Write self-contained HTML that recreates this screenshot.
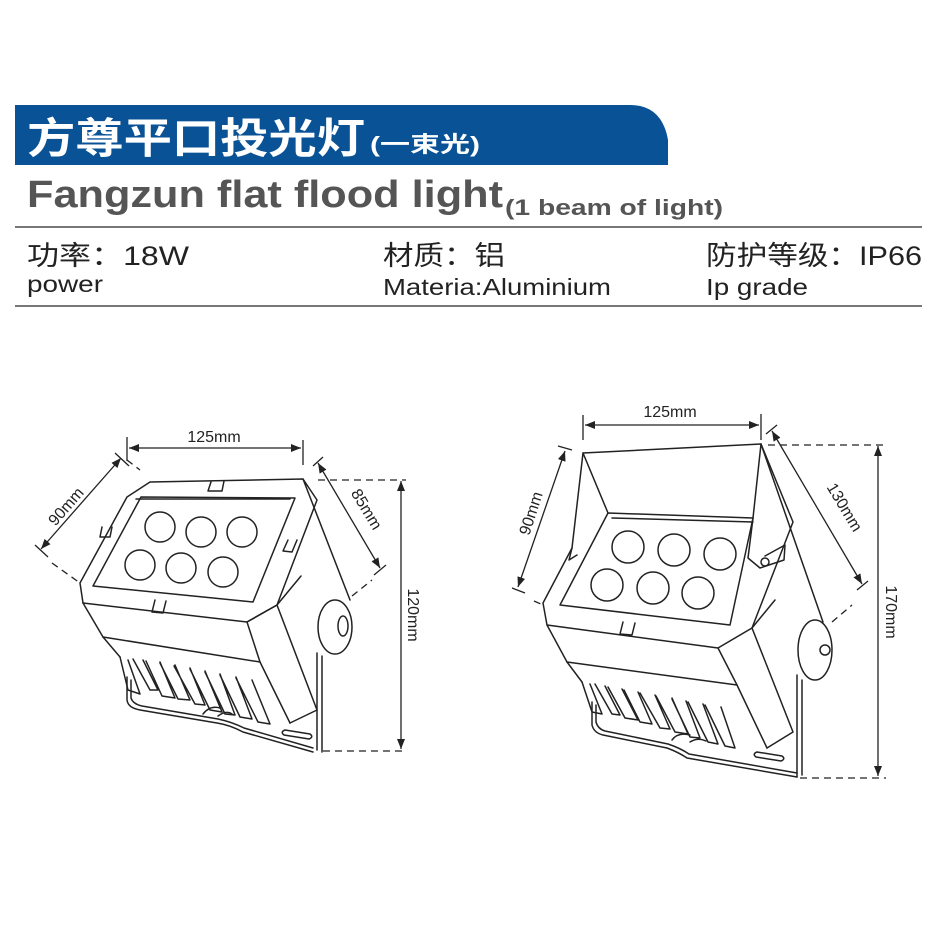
<!DOCTYPE html>
<html><head><meta charset="utf-8"><style>
html,body{margin:0;padding:0;background:#fff;width:937px;height:937px;overflow:hidden}
svg{display:block}
.l{fill:none;stroke:#222;stroke-width:1.5;stroke-linejoin:round;stroke-linecap:round}
.d{fill:none;stroke:#222;stroke-width:1.3}
.ds{fill:none;stroke:#222;stroke-width:1.3;stroke-dasharray:7 5}
.t{font-family:"Liberation Sans","Noto Sans CJK SC",sans-serif;fill:#222;font-size:16px}
</style></head><body>
<svg width="937" height="937" viewBox="0 0 937 937" xmlns="http://www.w3.org/2000/svg">
<defs>
<marker id="a" viewBox="0 0 10 10" refX="10" refY="5" markerWidth="10" markerHeight="10" orient="auto-start-reverse" markerUnits="userSpaceOnUse"><path d="M0,1 L10,5 L0,9 z" fill="#222"/></marker>
</defs>
<path d="M15,105 H630 Q662,105 668,140 V165 H15 Z" fill="#0a5296"/>
<text x="27" y="153" font-family="'Liberation Sans','Noto Sans CJK SC',sans-serif" font-weight="bold" font-size="42" fill="#fff" textLength="338" lengthAdjust="spacingAndGlyphs">方尊平口投光灯</text>
<text x="370" y="152" font-family="'Liberation Sans','Noto Sans CJK SC',sans-serif" font-weight="bold" font-size="22" fill="#fff" textLength="110" lengthAdjust="spacingAndGlyphs">(一束光)</text>
<text x="27" y="207" font-family="'Liberation Sans',sans-serif" font-weight="bold" font-size="38" fill="#555" textLength="476" lengthAdjust="spacingAndGlyphs">Fangzun flat flood light</text>
<text x="505" y="215" font-family="'Liberation Sans',sans-serif" font-weight="bold" font-size="22" fill="#555" textLength="218" lengthAdjust="spacingAndGlyphs">(1 beam of light)</text>
<line x1="15" y1="227" x2="922" y2="227" stroke="#777" stroke-width="2"/>
<line x1="15" y1="306" x2="922" y2="306" stroke="#777" stroke-width="2"/>
<g font-family="'Liberation Sans','Noto Sans CJK SC',sans-serif" fill="#222">
<text x="27" y="265" font-size="27" textLength="162" lengthAdjust="spacingAndGlyphs">功率：18W</text>
<text x="27" y="292" font-size="23" textLength="76" lengthAdjust="spacingAndGlyphs">power</text>
<text x="383" y="265" font-size="27" textLength="122" lengthAdjust="spacingAndGlyphs">材质：铝</text>
<text x="383" y="295" font-size="23" textLength="228" lengthAdjust="spacingAndGlyphs">Materia:Aluminium</text>
<text x="706" y="265" font-size="27" textLength="216" lengthAdjust="spacingAndGlyphs">防护等级：IP66</text>
<text x="706" y="295" font-size="23" textLength="102" lengthAdjust="spacingAndGlyphs">Ip grade</text>
</g>

<!-- LEFT LAMP -->
<g class="l">
<path d="M150,482 L303,479 L317,500 L277,605 L247,622 L83,603 L80,583 L127,497 Z"/>
<path d="M141,497 L295,498 L253,602 L93,586 Z"/>
<path d="M136,499 L290,499"/>
<circle cx="160" cy="527" r="15"/><circle cx="201" cy="532" r="15"/><circle cx="242" cy="532" r="15"/>
<circle cx="140" cy="565" r="15"/><circle cx="181" cy="568" r="15"/><circle cx="223" cy="572" r="15"/>
<path d="M211,482 L208,491 L222,491 L224,481"/>
<path d="M102,527 L100,537 L110,537 L112,527"/>
<path d="M288,540 L283,551 L292,552 L297,540"/>
<path d="M155,600 L152,612 L163,613 L166,601"/>
<path d="M83,603 L103,637 L120,657"/>
<path d="M103,637 L260,662"/>
<path d="M247,622 L260,662 L290,723"/>
<path d="M247,622 L277,605 L317,710 L290,723"/>
<path d="M303,479 L350,600"/>
<path d="M277,605 L301,576"/>
<ellipse cx="335" cy="627" rx="17" ry="27"/>
<ellipse cx="343" cy="626" rx="5" ry="10"/>
<path d="M317,653 L317,750 M322,656 L322,752"/>
<path d="M127,677 L127,700 Q128,708 140,710 L217,723 Q230,725 243,732 L313,752"/>
<path d="M131,680 L131,698 Q133,704 142,706 L218,719 Q232,722 244,728 L313,748"/>
<path d="M285,730 L310,734 Q314,737 309,739 L284,735 Q280,732 285,730 Z"/>
<path d="M120,657 L128,690 L140,694 L128,660 M133,659 L150,690 L158,690 L143,660 M146,661 L162,696 L175,698 L160,662 M160,663 L178,699 L190,700 L175,665 M174,666 L195,704 L205,705 L190,668 M190,669 L210,710 L222,712 L205,671 M205,672 L225,714 L235,715 L220,674 M220,675 L240,717 L252,719 L236,677 M236,678 L258,722 L270,724 L252,680"/>
<path d="M203,714 Q210,705 220,708 M218,716 Q226,710 232,714"/>
</g>
<line class="d" x1="129" y1="448" x2="301" y2="448" marker-start="url(#a)" marker-end="url(#a)"/>
<path class="d" d="M127,437 V461 M303,440 V465"/>
<text class="t" x="214" y="442" text-anchor="middle">125mm</text>
<line class="d" x1="121" y1="458" x2="41" y2="549" marker-start="url(#a)" marker-end="url(#a)"/>
<path class="d" d="M115,453 L129,466 M35,545 L48,557"/>
<path class="ds" d="M127,460 L140,470 M52,563 L80,583"/>
<text class="t" transform="translate(70,510) rotate(-49)" text-anchor="middle">90mm</text>
<line class="d" x1="318" y1="463" x2="380" y2="568" marker-start="url(#a)" marker-end="url(#a)"/>
<path class="d" d="M313,466 L323,457 M374,575 L386,565"/>
<path class="ds" d="M352,596 L372,580"/>
<text class="t" transform="translate(362,512) rotate(59)" text-anchor="middle">85mm</text>
<line class="d" x1="401" y1="481" x2="401" y2="749" marker-start="url(#a)" marker-end="url(#a)"/>
<path class="ds" d="M318,480 H406 M323,751 H406"/>
<text class="t" transform="translate(408,615) rotate(90)" text-anchor="middle">120mm</text>

<!-- RIGHT LAMP -->
<g class="l">
<path d="M583,453 L761,444 L793,522 L752,628 L718,648 L547,625 L543,603 L572,548 Z"/>
<path d="M583,453 L608,513 M761,444 L753,518"/>
<path d="M608,513 L753,518 L730,625 L560,605 Z"/>
<path d="M612,518 L753,522"/>
<path d="M753,518 L748,558 L760,568 L784,560 L785,545 L765,556"/>
<path d="M572,548 L569,560 L577,555"/>
<circle cx="628" cy="547" r="16"/><circle cx="674" cy="550" r="16"/><circle cx="720" cy="554" r="16"/>
<circle cx="607" cy="585" r="16"/><circle cx="653" cy="588" r="16"/><circle cx="698" cy="593" r="16"/>
<circle cx="765" cy="562" r="4"/>
<path d="M623,622 L620,634 L632,635 L635,623"/>
<path d="M547,625 L567,662 L582,682"/>
<path d="M567,662 L737,685"/>
<path d="M718,648 L737,685 L767,748"/>
<path d="M752,628 L793,732 L767,748"/>
<path d="M761,444 L823,622"/>
<path d="M752,628 L775,600"/>
<ellipse cx="815" cy="650" rx="17" ry="30"/>
<circle cx="825" cy="650" r="5"/>
<path d="M797,675 L797,777 M802,680 L802,775"/>
<path d="M592,702 L592,725 Q594,733 603,735 L667,748 Q678,752 687,758 L797,777"/>
<path d="M596,705 L596,722 Q598,729 605,731 L668,744 Q680,748 689,754 L797,773"/>
<path d="M757,752 L782,756 Q786,759 781,761 L756,757 Q752,754 757,752 Z"/>
<path d="M582,682 L592,712 L602,714 L590,684 M595,684 L612,714 L620,715 L605,686 M608,687 L625,718 L638,720 L622,689 M624,690 L640,722 L652,724 L638,692 M640,693 L660,728 L670,729 L655,695 M656,696 L675,732 L688,734 L672,698 M672,699 L690,737 L700,738 L686,701 M688,702 L708,742 L718,744 L703,704 M705,705 L725,746 L735,748 L721,707"/>
<path d="M672,740 Q678,732 690,735 M690,742 Q698,737 706,741"/>
</g>
<line class="d" x1="585" y1="425" x2="759" y2="425" marker-start="url(#a)" marker-end="url(#a)"/>
<path class="d" d="M583,415 V440 M761,414 V440"/>
<text class="t" x="670" y="417" text-anchor="middle">125mm</text>
<line class="d" x1="565" y1="451" x2="518" y2="587" marker-start="url(#a)" marker-end="url(#a)"/>
<path class="d" d="M558,446 L572,450 M512,588 L525,593"/>
<path class="ds" d="M534,601 L543,605"/>
<text class="t" transform="translate(536,515) rotate(-72)" text-anchor="middle">90mm</text>
<line class="d" x1="772" y1="431" x2="862" y2="584" marker-start="url(#a)" marker-end="url(#a)"/>
<path class="d" d="M766,434 L777,425 M857,590 L868,581"/>
<path class="ds" d="M832,622 L852,605"/>
<text class="t" transform="translate(840,510) rotate(59)" text-anchor="middle">130mm</text>
<line class="d" x1="878" y1="446" x2="878" y2="776" marker-start="url(#a)" marker-end="url(#a)"/>
<path class="ds" d="M768,445 H886 M800,778 H886"/>
<text class="t" transform="translate(886,612) rotate(90)" text-anchor="middle">170mm</text>
</svg>
</body></html>
